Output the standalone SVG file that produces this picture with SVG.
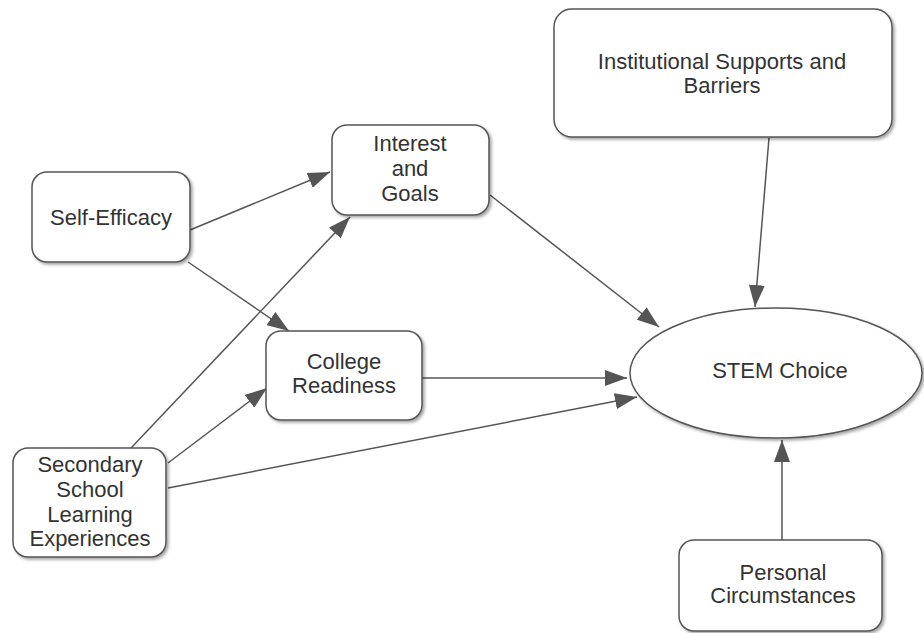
<svg xmlns="http://www.w3.org/2000/svg" width="924" height="633" viewBox="0 0 924 633">
<style>
.box{fill:#fff;stroke:#555;stroke-width:1.5;filter:url(#sh)}
.t{font-family:"Liberation Sans",Arial,sans-serif;font-size:22px;fill:#333;text-anchor:middle}
.c{fill:none;stroke:#555;stroke-width:1.5;marker-end:url(#ah)}
</style>
<defs>
<filter id="sh" x="-10%" y="-10%" width="130%" height="130%">
<feDropShadow dx="2" dy="2" stdDeviation="1.8" flood-color="#000" flood-opacity="0.35"/>
</filter>
<marker id="ah" viewBox="0 0 22 16" refX="22" refY="8" markerWidth="22" markerHeight="16" markerUnits="userSpaceOnUse" orient="auto">
<path d="M0,0 L22,8 L0,16 Z" fill="#555"/>
</marker>
</defs>
<rect width="924" height="633" fill="#fff"/>
<g id="connectors">
<line class="c" x1="190" y1="230" x2="330" y2="172"/>
<line class="c" x1="188" y1="262" x2="289" y2="331"/>
<line class="c" x1="131" y1="448" x2="350" y2="217"/>
<line class="c" x1="168" y1="463" x2="267" y2="388"/>
<line class="c" x1="168" y1="488" x2="637" y2="397"/>
<line class="c" x1="422" y1="378" x2="627" y2="378"/>
<line class="c" x1="490" y1="195" x2="659" y2="327"/>
<line class="c" x1="769" y1="138" x2="755" y2="307"/>
<line class="c" x1="782" y1="540" x2="782" y2="440"/>
</g>
<g id="self-efficacy">
<rect class="box" x="32" y="172" width="158" height="90" rx="15"/>
<text class="t" x="111" y="225">Self-Efficacy</text>
</g>
<g id="interest-goals">
<rect class="box" x="332" y="125" width="157" height="90" rx="15"/>
<text class="t" x="410" y="151">Interest</text>
<text class="t" x="410" y="176">and</text>
<text class="t" x="410" y="201">Goals</text>
</g>
<g id="college-readiness">
<rect class="box" x="266" y="331" width="156" height="89" rx="15"/>
<text class="t" x="344" y="369">College</text>
<text class="t" x="344" y="393">Readiness</text>
</g>
<g id="secondary-school">
<rect class="box" x="13" y="448" width="153" height="109" rx="15"/>
<text class="t" x="90" y="472">Secondary</text>
<text class="t" x="90" y="497">School</text>
<text class="t" x="90" y="522">Learning</text>
<text class="t" x="90" y="546">Experiences</text>
</g>
<g id="institutional">
<rect class="box" x="554" y="9" width="338" height="128" rx="18"/>
<text class="t" x="722" y="69">Institutional Supports and</text>
<text class="t" x="722" y="93">Barriers</text>
</g>
<g id="stem-choice">
<ellipse class="box" cx="776" cy="373" rx="146" ry="65"/>
<text class="t" x="780" y="378">STEM Choice</text>
</g>
<g id="personal">
<rect class="box" x="679" y="540" width="203" height="91" rx="15"/>
<text class="t" x="783" y="580">Personal</text>
<text class="t" x="783" y="603">Circumstances</text>
</g>
</svg>
